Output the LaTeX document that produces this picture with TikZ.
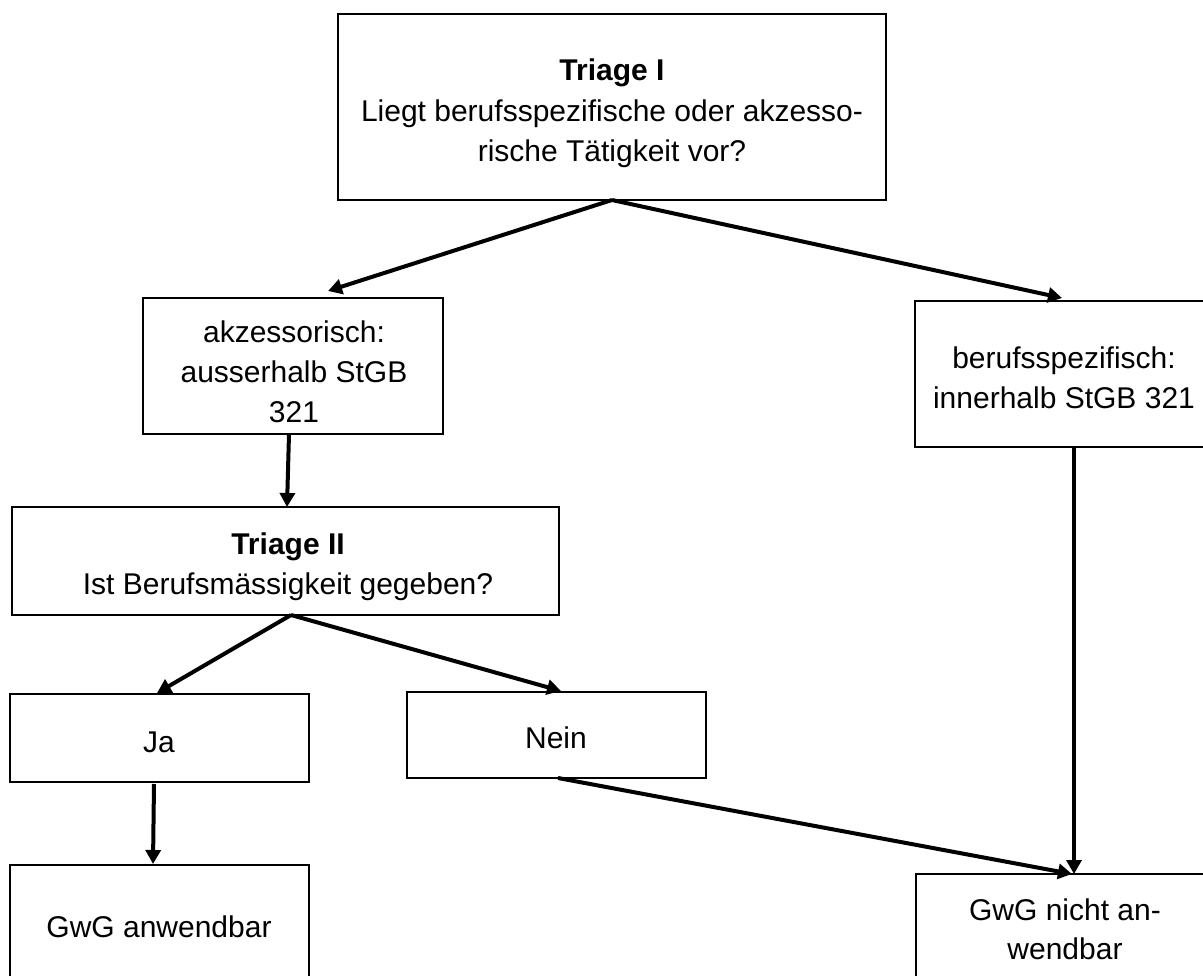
\documentclass[tikz,border=0pt]{standalone}
\usepackage{fontspec}
\setmainfont{Liberation Sans}
\usetikzlibrary{arrows.meta}
\begin{document}
\begin{tikzpicture}[x=1pt,y=-1pt,
  box/.style={draw=black,line width=2.5pt,inner sep=0pt,outer sep=0pt},
  txt/.style={anchor=base,inner sep=0pt,outer sep=0pt,font=\fontsize{30}{36}\selectfont},
  conn/.style={line width=4pt,-{Triangle[length=14pt,width=15pt]}}]
\useasboundingbox (0,0) rectangle (1203,976);
\clip (0,0) rectangle (1203,976);
% boxes
\node[box,minimum width=548pt,minimum height=186pt] (tri1) at (612,107) {};
\node[box,minimum width=300pt,minimum height=136pt] (akz) at (293,366) {};
\node[box,minimum width=298pt,minimum height=146pt] (beruf) at (1064,374) {};
\node[box,minimum width=547pt,minimum height=108pt] (tri2) at (285.5,561) {};
\node[box,minimum width=299pt,minimum height=88pt] (ja) at (159.5,738) {};
\node[box,minimum width=299pt,minimum height=86pt] (nein) at (556.5,735) {};
\node[box,minimum width=299pt,minimum height=125pt] (gwg) at (159.5,927.5) {};
\node[box,minimum width=297pt,minimum height=126pt] (gwgn) at (1064.5,937) {};
% texts
\node[txt] (tri1a) at (612,81) {\textbf{Triage I}};
\node[txt] (tri1b) at (612,122) {Liegt berufsspezifische oder akzesso-};
\node[txt] (tri1c) at (612,162) {rische Tätigkeit vor?};
\node[txt] (akza) at (294,343) {akzessorisch:};
\node[txt] (akzb) at (294,383) {ausserhalb StGB};
\node[txt] (akzc) at (294,423) {321};
\node[txt] (berufa) at (1064,369) {berufsspezifisch:};
\node[txt] (berufb) at (1064,409) {innerhalb StGB 321};
\node[txt] (tri2a) at (288,554) {\textbf{Triage II}};
\node[txt] (tri2b) at (288,594) {Ist Berufsmässigkeit gegeben?};
\node[txt] (jat) at (159,752) {Ja};
\node[txt] (neint) at (556,748) {Nein};
\node[txt] (gwgt) at (159,937) {GwG anwendbar};
\node[txt] (gwgna) at (1065,920) {GwG nicht an-};
\node[txt] (gwgnb) at (1065,959) {wendbar};
% connectors
\draw[conn] (tri1.south) -- ([shift={(35,-7)}]akz.north);
\draw[conn] (tri1.south) -- ([shift={(-2,-3)}]beruf.north);
\draw[conn] ([xshift=-4pt]akz.south) -- ([xshift=1.5pt]tri2.north);
\draw[conn] ([xshift=5.5pt]tri2.south) -- ([shift={(-2.5,-1)}]ja.north);
\draw[conn] ([xshift=5.5pt]tri2.south) -- ([shift={(4.5,-1)}]nein.north);
\draw[conn] ([shift={(-5.5,2)}]ja.south) -- ([shift={(-6.5,-1)}]gwg.north);
\draw[conn] ([xshift=10pt]beruf.south) -- ([xshift=9.5pt]gwgn.north);
\draw[conn] ([xshift=1.5pt]nein.south) -- ([xshift=7.5pt]gwgn.north);
\end{tikzpicture}
\end{document}
